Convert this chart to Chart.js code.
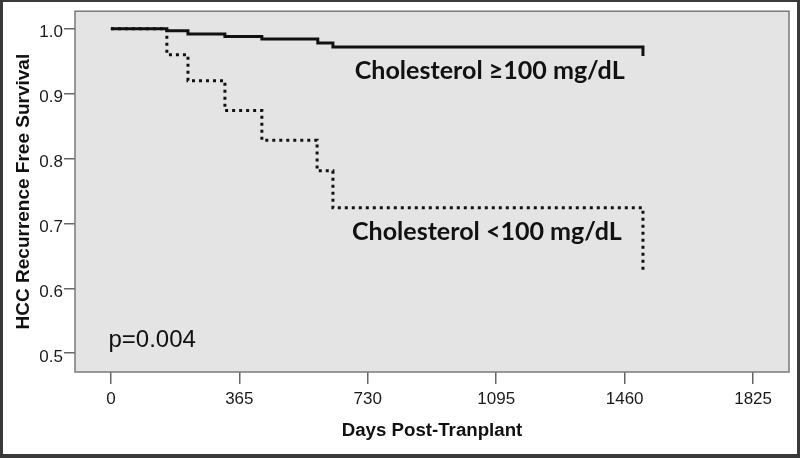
<!DOCTYPE html>
<html>
<head>
<meta charset="utf-8">
<script src="https://cdn.jsdelivr.net/npm/chart.js@4.4.1/dist/chart.umd.min.js"></script>
<style>
  html, body { margin: 0; padding: 0; background: #ffffff; }
  canvas { display: block; }
</style>
</head>
<body>
<canvas id="c" width="800" height="458"></canvas>
<script>
// ---- data ----
const daysHigh = [0, 159, 219, 324, 429, 588, 631, 1512];
const survHigh = [1.000, 0.997, 0.992, 0.988, 0.984, 0.978, 0.972, 0.958];
const daysLow  = [0, 159, 219, 324, 429, 586, 631, 1512];
const survLow  = [1.000, 0.960, 0.920, 0.874, 0.828, 0.781, 0.724, 0.624];
const seriesNames = ['Cholesterol \u2265100 mg/dL', 'Cholesterol <100 mg/dL'];
const xTickValues = [0, 365, 730, 1095, 1460, 1825];
const yTickValues = [0.5, 0.6, 0.7, 0.8, 0.9, 1.0];
const pValueText = 'p=0.004';
const xTitle = 'Days Post-Tranplant';
const yTitle = 'HCC Recurrence Free Survival';

const ARIAL = "'Liberation Sans', Arial, Helvetica, sans-serif";
const CALIBRI = "Lato, 'Open Sans', sans-serif";

function pts(xs, ys) { return xs.map((x, i) => ({ x: x, y: ys[i] })); }

// text annotations placed in data coordinates
const notes = [
  { text: seriesNames[0], day: 693, surv: 0.9225, font: 'bold', family: CALIBRI, width: 270, size: 26 },
  { text: seriesNames[1], day: 685, surv: 0.6748, font: 'bold', family: CALIBRI, width: 270, size: 26 },
  { text: pValueText,     day: -7,  surv: 0.5096, font: 'normal', family: ARIAL, width: 0, size: 24 }
];

const decor = {
  id: 'decor',
  beforeDraw(chart) {
    const { ctx, chartArea: a } = chart;
    ctx.save();
    ctx.fillStyle = '#ffffff';
    ctx.fillRect(0, 0, chart.width, chart.height);
    ctx.fillStyle = '#e4e4e4';
    ctx.fillRect(a.left, a.top, a.right - a.left, a.bottom - a.top);
    ctx.restore();
  },
  beforeDatasetsDraw(chart) {
    const { ctx, chartArea: a } = chart;
    ctx.save();
    ctx.strokeStyle = '#7a7a7a';
    ctx.lineWidth = 1.5;
    ctx.strokeRect(a.left, a.top, a.right - a.left, a.bottom - a.top);
    ctx.restore();
  },
  afterDatasetsDraw(chart) {
    const { ctx, scales } = chart;
    ctx.save();
    ctx.fillStyle = '#111111';
    ctx.textAlign = 'left';
    ctx.textBaseline = 'alphabetic';
    notes.forEach(n => {
      let size = n.size;
      ctx.font = n.font + ' ' + size + 'px ' + n.family;
      if (n.width) {
        const w = ctx.measureText(n.text).width;
        size = size * n.width / w;
        ctx.font = n.font + ' ' + size.toFixed(2) + 'px ' + n.family;
      }
      ctx.fillText(n.text, scales.x.getPixelForValue(n.day), scales.y.getPixelForValue(n.surv));
    });
    ctx.restore();
  },
  afterDraw(chart) {
    const { ctx } = chart;
    ctx.save();
    ctx.fillStyle = '#3a3a3a';
    ctx.fillRect(0, 0, chart.width, 2);
    ctx.fillRect(0, 0, 3, chart.height);
    ctx.fillRect(chart.width - 3, 0, 3, chart.height);
    ctx.fillRect(0, chart.height - 4, chart.width, 4);
    ctx.restore();
  }
};

new Chart(document.getElementById('c'), {
  type: 'line',
  data: {
    datasets: [
      {
        label: seriesNames[0],
        data: pts(daysHigh, survHigh),
        stepped: 'before',
        borderColor: '#111111',
        borderWidth: 3,
        pointRadius: 0,
        fill: false,
        borderCapStyle: 'butt',
        borderJoinStyle: 'miter'
      },
      {
        label: seriesNames[1],
        data: pts(daysLow, survLow),
        stepped: 'before',
        borderColor: '#111111',
        borderWidth: 3,
        borderDash: [3, 4],
        pointRadius: 0,
        fill: false,
        borderCapStyle: 'butt',
        borderJoinStyle: 'miter'
      }
    ]
  },
  options: {
    responsive: false,
    animation: false,
    devicePixelRatio: 1,
    layout: { padding: { left: 0, top: 6, right: 11, bottom: 0 } },
    plugins: { legend: { display: false }, tooltip: { enabled: false } },
    scales: {
      x: {
        type: 'linear',
        min: -102,
        max: 1927,
        afterFit(s) { s.height = 86; },
        afterBuildTicks(s) { s.ticks = xTickValues.map(v => ({ value: v })); },
        grid: { drawOnChartArea: false, drawTicks: true, tickLength: 12, color: '#666666', lineWidth: 1.5 },
        border: { display: false },
        ticks: { font: { size: 17, family: ARIAL }, color: '#1a1a1a', padding: 5, maxRotation: 0, autoSkip: false,
                 callback: v => String(v) },
        title: { display: true, text: xTitle, color: '#111111',
                 font: { size: 18.7, weight: 'bold', family: ARIAL }, padding: { top: 0, bottom: 16.4 } }
      },
      y: {
        type: 'linear',
        min: 0.471,
        max: 1.027,
        afterFit(s) { s.width = 75; },
        afterBuildTicks(s) { s.ticks = yTickValues.map(v => ({ value: v })); },
        grid: { drawOnChartArea: false, drawTicks: true, tickLength: 11, color: '#666666', lineWidth: 1.5 },
        border: { display: false },
        ticks: { font: { size: 17, family: ARIAL }, color: '#1a1a1a', padding: 1, labelOffset: 4,
                 callback: v => Number(v).toFixed(1) },
        title: { display: true, text: yTitle, color: '#111111',
                 font: { size: 19, weight: 'bold', family: ARIAL }, padding: { top: 12.6, bottom: 0 } }
      }
    }
  },
  plugins: [decor]
});
</script>
</body>
</html>
